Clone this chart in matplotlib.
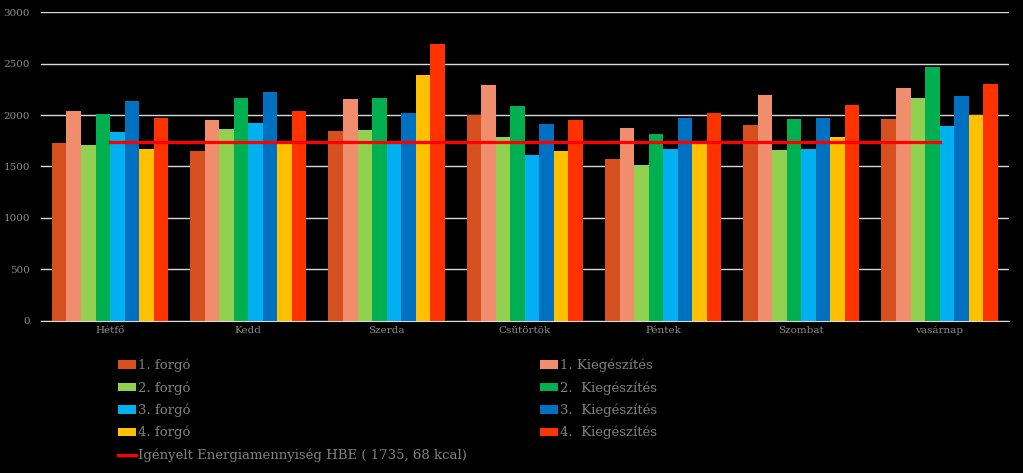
import numpy as np
import matplotlib
matplotlib.use("Agg")
import matplotlib.pyplot as plt

days = ["Hétfő", "Kedd", "Szerda", "Csütörtök", "Péntek", "Szombat", "vasárnap"]

forgo_1 = [1732, 1648, 1849, 2000, 1570, 1901, 1963]
kieg_1 = [2035, 1947, 2152, 2291, 1872, 2197, 2265]
forgo_2 = [1710, 1866, 1859, 1791, 1515, 1658, 2165]
kieg_2 = [2012, 2168, 2165, 2090, 1817, 1960, 2467]
forgo_3 = [1833, 1921, 1740, 1615, 1667, 1671, 1892]
kieg_3 = [2135, 2223, 2022, 1911, 1970, 1973, 2187]
forgo_4 = [1671, 1728, 2386, 1648, 1726, 1791, 2000]
kieg_4 = [1973, 2038, 2688, 1950, 2018, 2093, 2298]
hbe = 1735.68

series = [
    ("1. forgó", forgo_1, "#D64F1E"),
    ("1. Kiegészítés", kieg_1, "#F08D6C"),
    ("2. forgó", forgo_2, "#92D050"),
    ("2.  Kiegészítés", kieg_2, "#00B050"),
    ("3. forgó", forgo_3, "#00B0F0"),
    ("3.  Kiegészítés", kieg_3, "#0070C0"),
    ("4. forgó", forgo_4, "#FFC000"),
    ("4.  Kiegészítés", kieg_4, "#FF3300"),
]

plt.rcParams["font.family"] = ["DejaVu Serif"]
fig = plt.figure(figsize=(10.23, 4.73), dpi=100, facecolor="black")
ax = fig.add_axes([0.040, 0.3214, 0.946, 0.6532])
ax.set_facecolor("black")

x = np.arange(len(days))
w = 0.105
handles = {}
for i, (name, vals, col) in enumerate(series):
    off = (i - 3.5) * w
    b = ax.bar(x + off, vals, width=w, color=col, zorder=2, label=name)
    handles[name] = b

ln, = ax.plot(x, [hbe] * len(days), color="#FF0000", lw=2.3, zorder=3,
              label="Igényelt Energiamennyiség HBE ( 1735, 68 kcal)")

ax.set_xlim(-0.5, len(days) - 0.5)
ax.set_ylim(0, 3000)
ax.set_yticks(np.arange(0, 3001, 500))
ax.grid(axis="y", color="#d9d9d9", lw=1, zorder=0)
for s in ["top", "right", "left"]:
    ax.spines[s].set_visible(False)
ax.spines["bottom"].set_color("#d9d9d9")
ax.tick_params(length=0, colors="#8c8c8c", labelsize=7.5)
ax.tick_params(axis="y", pad=8)
ax.set_xticks(x)
ax.set_xticklabels(days)

order = ["1. forgó", "2. forgó", "3. forgó", "4. forgó"]
kieg_names = ["1. Kiegészítés", "2.  Kiegészítés", "3.  Kiegészítés", "4.  Kiegészítés"]
hl = [handles[n] for n in order] + [ln] + [handles[n] for n in kieg_names]
labels = order + [ln.get_label()] + kieg_names
leg = fig.legend(hl, labels, ncol=2, loc="upper left", bbox_to_anchor=(0.115, 0.242),
                 frameon=False, fontsize=9.5, labelcolor="#808080",
                 handlelength=1.4, handleheight=0.6, handletextpad=0.15,
                 labelspacing=0.68, columnspacing=5.5, borderpad=0, borderaxespad=0)

fig.savefig("out.png", dpi=100, facecolor="black")
